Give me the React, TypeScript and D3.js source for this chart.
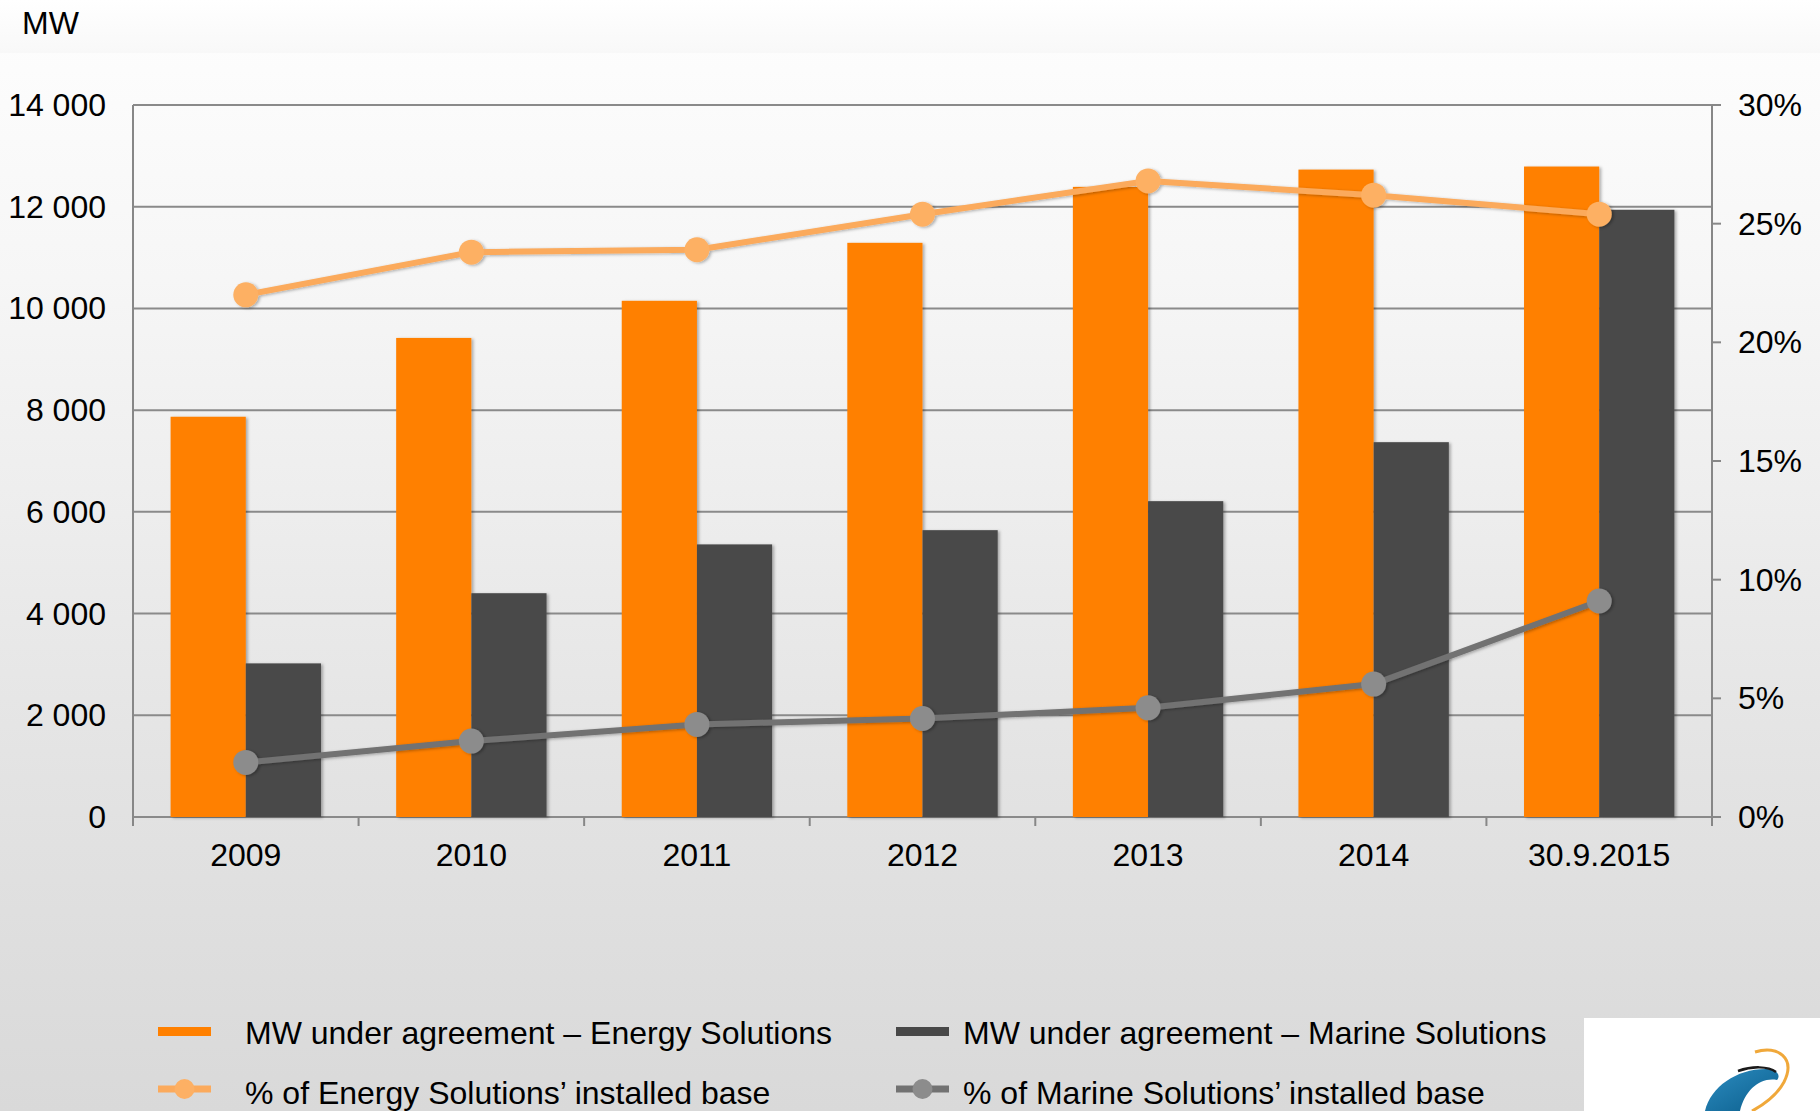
import React from "react";
import * as d3 from "d3";

const categories = ["2009", "2010", "2011", "2012", "2013", "2014", "30.9.2015"];
const energyMW = [7870, 9420, 10150, 11290, 12390, 12730, 12790];
const marineMW = [3020, 4400, 5360, 5640, 6210, 7370, 11940];
const energyPct = [22.0, 23.8, 23.9, 25.4, 26.8, 26.2, 25.4];
const marinePct = [2.3, 3.2, 3.9, 4.15, 4.6, 5.6, 9.1];
const leftTicks = [0, 2000, 4000, 6000, 8000, 10000, 12000, 14000];
const rightTicks = [0, 5, 10, 15, 20, 25, 30];
const seriesKeys = ["energy", "marine"];
const legendLabels = [
  "MW under agreement – Energy Solutions",
  "MW under agreement – Marine Solutions",
  "% of Energy Solutions’ installed base",
  "% of Marine Solutions’ installed base",
];

const W = 1820;
const H = 1111;
const plot = { left: 133, right: 1712, top: 105, bottom: 817 };
const FONT = "'Liberation Sans', Arial, sans-serif";
const ORANGE = "#FF8000";
const DARK = "#484848";
const ORANGE_LINE = "#FBAA5C";
const ORANGE_MARK = "#FDB064";
const GRAY_LINE = "#727272";
const GRAY_MARK = "#8C8C8C";

const fmt = (v: number) => (v >= 1000 ? `${Math.floor(v / 1000)} ${String(v % 1000).padStart(3, "0")}` : String(v));

export default function App() {
  const x0 = d3.scaleBand<string>().domain(categories).range([plot.left, plot.right]).padding(0);
  const bw = x0.bandwidth();
  const x1 = d3.scaleBand<string>().domain(seriesKeys).range([bw / 6, (bw * 5) / 6]).padding(0);
  const yL = d3.scaleLinear().domain([0, 14000]).range([plot.bottom, plot.top]);
  const yR = d3.scaleLinear().domain([0, 30]).range([plot.bottom, plot.top]);
  const cx = (c: string) => (x0(c) as number) + bw / 2;

  const line = d3
    .line<number>()
    .x((_, i) => cx(categories[i]))
    .y((d) => yR(d));

  const bars: React.ReactNode[] = [];
  categories.forEach((c, i) => {
    const vals = [energyMW[i], marineMW[i]];
    seriesKeys.forEach((k, j) => {
      const x = (x0(c) as number) + (x1(k) as number);
      bars.push(
        <rect
          key={`${c}-${k}`}
          x={x}
          y={yL(vals[j])}
          width={x1.bandwidth()}
          height={plot.bottom - yL(vals[j])}
          fill={j === 0 ? ORANGE : DARK}
          filter="url(#shadow)"
        />
      );
    });
  });

  const textStyle = { fontFamily: FONT, fontSize: 32, fill: "#000" } as const;

  return (
    <svg width={W} height={H} style={{ position: "absolute", left: 0, top: 0 }}>
      <defs>
        <linearGradient id="bg" x1="0" y1="0" x2="0" y2="1">
          <stop offset="0" stopColor="#FEFEFE" />
          <stop offset="0.25" stopColor="#F6F6F6" />
          <stop offset="0.7" stopColor="#E3E3E3" />
          <stop offset="1" stopColor="#D9D9D9" />
        </linearGradient>
        <linearGradient id="strip" x1="0" y1="0" x2="0" y2="1">
          <stop offset="0" stopColor="#FFFFFF" />
          <stop offset="1" stopColor="#F8F8F8" />
        </linearGradient>
        <linearGradient id="blue" x1="0" y1="0" x2="1" y2="1">
          <stop offset="0" stopColor="#2C8CC0" />
          <stop offset="1" stopColor="#0B5E8C" />
        </linearGradient>
        <filter id="shadow" x="-10%" y="-10%" width="130%" height="130%">
          <feDropShadow dx="2" dy="1" stdDeviation="1.5" floodColor="#000" floodOpacity="0.3" />
        </filter>
      </defs>

      <rect x={0} y={0} width={W} height={H} fill="url(#bg)" />
      <rect x={0} y={0} width={W} height={53} fill="url(#strip)" />

      <text x={22} y={34} style={textStyle}>MW</text>

      {/* gridlines */}
      {leftTicks.map((t) => (
        <line key={`g${t}`} x1={plot.left} x2={plot.right} y1={yL(t)} y2={yL(t)} stroke="#8A8A8A" strokeWidth={2} />
      ))}

      {/* axes */}
      <line x1={plot.left} x2={plot.left} y1={plot.top} y2={plot.bottom} stroke="#878787" strokeWidth={2} />
      <line x1={plot.right} x2={plot.right} y1={plot.top} y2={plot.bottom} stroke="#878787" strokeWidth={2} />
      {rightTicks.map((t) => (
        <line key={`rt${t}`} x1={plot.right} x2={plot.right + 9} y1={yR(t)} y2={yR(t)} stroke="#878787" strokeWidth={2} />
      ))}
      {categories.map((c) => (
        <line key={`xt${c}`} x1={x0(c) as number} x2={x0(c) as number} y1={plot.bottom} y2={plot.bottom + 9} stroke="#878787" strokeWidth={2} />
      ))}
      <line x1={plot.right} x2={plot.right} y1={plot.bottom} y2={plot.bottom + 9} stroke="#878787" strokeWidth={2} />

      {bars}

      {/* lines */}
      <g filter="url(#shadow)">
        <path d={line(energyPct) as string} fill="none" stroke={ORANGE_LINE} strokeWidth={6} strokeLinejoin="round" />
        {energyPct.map((p, i) => (
          <circle key={`ep${i}`} cx={cx(categories[i])} cy={yR(p)} r={12.5} fill={ORANGE_MARK} />
        ))}
        <path d={line(marinePct) as string} fill="none" stroke={GRAY_LINE} strokeWidth={6} strokeLinejoin="round" />
        {marinePct.map((p, i) => (
          <circle key={`mp${i}`} cx={cx(categories[i])} cy={yR(p)} r={12.5} fill={GRAY_MARK} />
        ))}
      </g>

      {/* tick labels */}
      {leftTicks.map((t) => (
        <text key={`lt${t}`} x={106} y={yL(t) + 11} textAnchor="end" style={textStyle}>
          {fmt(t)}
        </text>
      ))}
      {rightTicks.map((t) => (
        <text key={`rl${t}`} x={1738} y={yR(t) + 11} style={textStyle}>
          {`${t}%`}
        </text>
      ))}
      {categories.map((c) => (
        <text key={`xl${c}`} x={cx(c)} y={866} textAnchor="middle" style={textStyle}>
          {c}
        </text>
      ))}

      {/* legend */}
      <rect x={158} y={1027} width={53} height={9} fill={ORANGE} />
      <text x={245} y={1044} style={textStyle}>{legendLabels[0]}</text>
      <rect x={896} y={1027} width={53} height={9} fill={DARK} />
      <text x={963} y={1044} style={textStyle}>{legendLabels[1]}</text>
      <line x1={158} x2={211} y1={1089} y2={1089} stroke={ORANGE_LINE} strokeWidth={7} />
      <circle cx={184.5} cy={1089} r={10} fill={ORANGE_MARK} />
      <text x={245} y={1104} style={textStyle}>{legendLabels[2]}</text>
      <line x1={896} x2={949} y1={1089} y2={1089} stroke={GRAY_LINE} strokeWidth={7} />
      <circle cx={922.5} cy={1089} r={10} fill={GRAY_MARK} />
      <text x={963} y={1104} style={textStyle}>{legendLabels[3]}</text>

      {/* logo box */}
      <rect x={1584} y={1018} width={W - 1584} height={H - 1018} fill="#FFFFFF" />
      <path
        d="M1705,1111 C1711,1086 1738,1068 1768,1069 C1777,1070 1781,1075 1777,1080 C1760,1077 1745,1090 1740,1111 Z"
        fill="url(#blue)"
      />
      <path d="M1738,1071 C1752,1066 1768,1066 1776,1072" fill="none" stroke="#1A1A1A" strokeWidth={2.5} />
      <path
        d="M1755,1052 C1778,1045 1796,1058 1784,1082 C1777,1095 1765,1104 1752,1111"
        fill="none"
        stroke="#F0A83A"
        strokeWidth={3}
      />
    </svg>
  );
}
